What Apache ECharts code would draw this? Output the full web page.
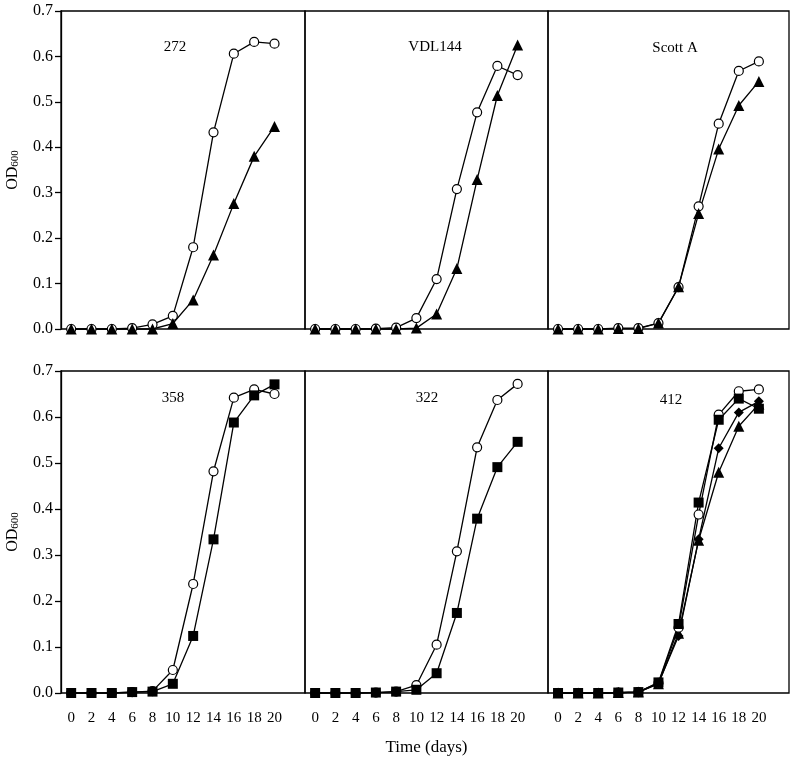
<!DOCTYPE html>
<html><head><meta charset="utf-8">
<script src="https://cdn.jsdelivr.net/npm/echarts@6/dist/echarts.min.js"></script>
<style>html,body{margin:0;padding:0;background:#fff}#c{width:796px;height:764px}</style>
</head><body><div id="c"></div>
<script>
var days = [0,2,4,6,8,10,12,14,16,18,20];
var yTicks = ['0.0','0.1','0.2','0.3','0.4','0.5','0.6','0.7'];
var panelNames = ['272','VDL144','Scott A','358','322','412'];

var s272Open = [0,0,0,0.002,0.01,0.029,0.18,0.433,0.606,0.632,0.628];
var s272Tri  = [0,0,0,0,0,0.012,0.064,0.163,0.276,0.38,0.446];
var sVdlOpen = [0,0,0,0.001,0.003,0.024,0.11,0.308,0.477,0.579,0.559];
var sVdlTri  = [0,0,0,0,0,0.002,0.033,0.133,0.329,0.514,0.625];
var sScottOpen = [0,0,0,0.002,0.002,0.013,0.092,0.27,0.452,0.568,0.589];
var sScottTri  = [0,0,0,0.001,0.001,0.013,0.093,0.254,0.396,0.492,0.545];
var s358Open = [0,0,0,0.002,0.004,0.05,0.237,0.482,0.642,0.66,0.65];
var s358Sq   = [0,0,0,0.002,0.003,0.02,0.124,0.334,0.588,0.647,0.671];
var s322Open = [0,0,0,0.001,0.003,0.017,0.105,0.308,0.534,0.637,0.672];
var s322Sq   = [0,0,0,0.001,0.003,0.007,0.043,0.174,0.379,0.491,0.546];
var s412Open = [0,0,0,0.001,0.002,0.022,0.142,0.388,0.605,0.656,0.66];
var s412Sq   = [0,0,0,0.001,0.002,0.023,0.15,0.414,0.594,0.64,0.618];
var s412Dia  = [0,0,0,0.001,0.002,0.021,0.124,0.334,0.532,0.61,0.634];
var s412Tri  = [0,0,0,0.001,0.002,0.02,0.13,0.332,0.48,0.58,0.628];

var panelSeries = [
  [['open', s272Open], ['tri', s272Tri]],
  [['open', sVdlOpen], ['tri', sVdlTri]],
  [['open', sScottOpen], ['tri', sScottTri]],
  [['open', s358Open], ['sq', s358Sq]],
  [['open', s322Open], ['sq', s322Sq]],
  [['tri', s412Tri], ['dia', s412Dia], ['open', s412Open], ['sq', s412Sq]]
];

var FONT = 'Liberation Serif';
var lefts = [61, 305, 548];
var widths = [244, 243, 241];
var tops = [11, 371];
var heights = [318, 322];

var grids = [], xAxes = [], yAxes = [], series = [], titles = [];
var labelPos = [[170,42],[430,42],[670,43],[168,393],[422,393],[666,395]];

var markers = {
  open: {symbol:'circle', size:9, color:'#fff'},
  tri:  {symbol:'triangle', size:11, color:'#000'},
  sq:   {symbol:'rect', size:10, color:'#000'},
  dia:  {symbol:'diamond', size:10, color:'#000'}
};

for (var i = 0; i < 6; i++) {
  var row = Math.floor(i/3), col = i % 3;
  grids.push({left: lefts[col], top: tops[row], width: widths[col], height: heights[row],
    show: true, borderColor: '#000', borderWidth: 1.3, backgroundColor: 'transparent', containLabel: false});
  xAxes.push({
    type: 'value', gridIndex: i, min: -1, max: 23, interval: 1,
    axisLine: {show: false, onZero: false}, axisTick: {show: false}, splitLine: {show: false},
    axisLabel: {show: row === 1, margin: 18, color: '#000', fontFamily: FONT, fontSize: 15,
      formatter: function (v) { return (v >= 0 && v <= 20 && v % 2 === 0) ? String(v) : ''; }},
    name: (i === 4) ? 'Time (days)' : '', nameLocation: 'middle', nameGap: 46,
    nameTextStyle: {color: '#000', fontFamily: FONT, fontSize: 17}
  });
  yAxes.push({
    type: 'value', gridIndex: i, min: 0, max: 0.7, interval: 0.1,
    axisLine: {show: col === 0, onZero: false, lineStyle: {color: '#000', width: 1.3}},
    axisTick: {show: col === 0, length: 6, lineStyle: {color: '#000', width: 1.3}},
    splitLine: {show: false},
    axisLabel: {show: col === 0, margin: 8, color: '#000', fontFamily: FONT, fontSize: 16,
      formatter: function (v) { return yTicks[Math.round(v*10)]; }},
    name: col === 0 ? '{m|OD}{s|600}' : '', nameLocation: 'middle', nameGap: 40, nameRotate: 90,
    nameTextStyle: {color: '#000', fontFamily: FONT, rich: {
      m: {fontFamily: FONT, fontSize: 16, color: '#000'},
      s: {fontFamily: FONT, fontSize: 11, color: '#000', verticalAlign: 'bottom', padding: [6,0,0,0]}
    }}
  });
  titles.push({text: panelNames[i], left: labelPos[i][0], top: labelPos[i][1], textAlign: 'center', textVerticalAlign: 'middle',
    textStyle: {fontFamily: FONT, fontSize: 15, fontWeight: 'normal', color: '#000'}});
  panelSeries[i].forEach(function (ps) {
    var m = markers[ps[0]];
    series.push({
      type: 'line', xAxisIndex: i, yAxisIndex: i, clip: false, animation: false,
      data: days.map(function (d, k) { return [d, ps[1][k]]; }),
      symbol: m.symbol, symbolSize: m.size, showAllSymbol: true,
      lineStyle: {color: '#000', width: 1.3},
      itemStyle: {color: m.color, borderColor: '#000', borderWidth: ps[0] === 'open' ? 1.2 : 0}
    });
  });
}

var chart = echarts.init(document.getElementById('c'), null, {renderer: 'canvas'});
chart.setOption({
  backgroundColor: '#fff', animation: false,
  title: titles, grid: grids, xAxis: xAxes, yAxis: yAxes, series: series
});
</script>
</body></html>
